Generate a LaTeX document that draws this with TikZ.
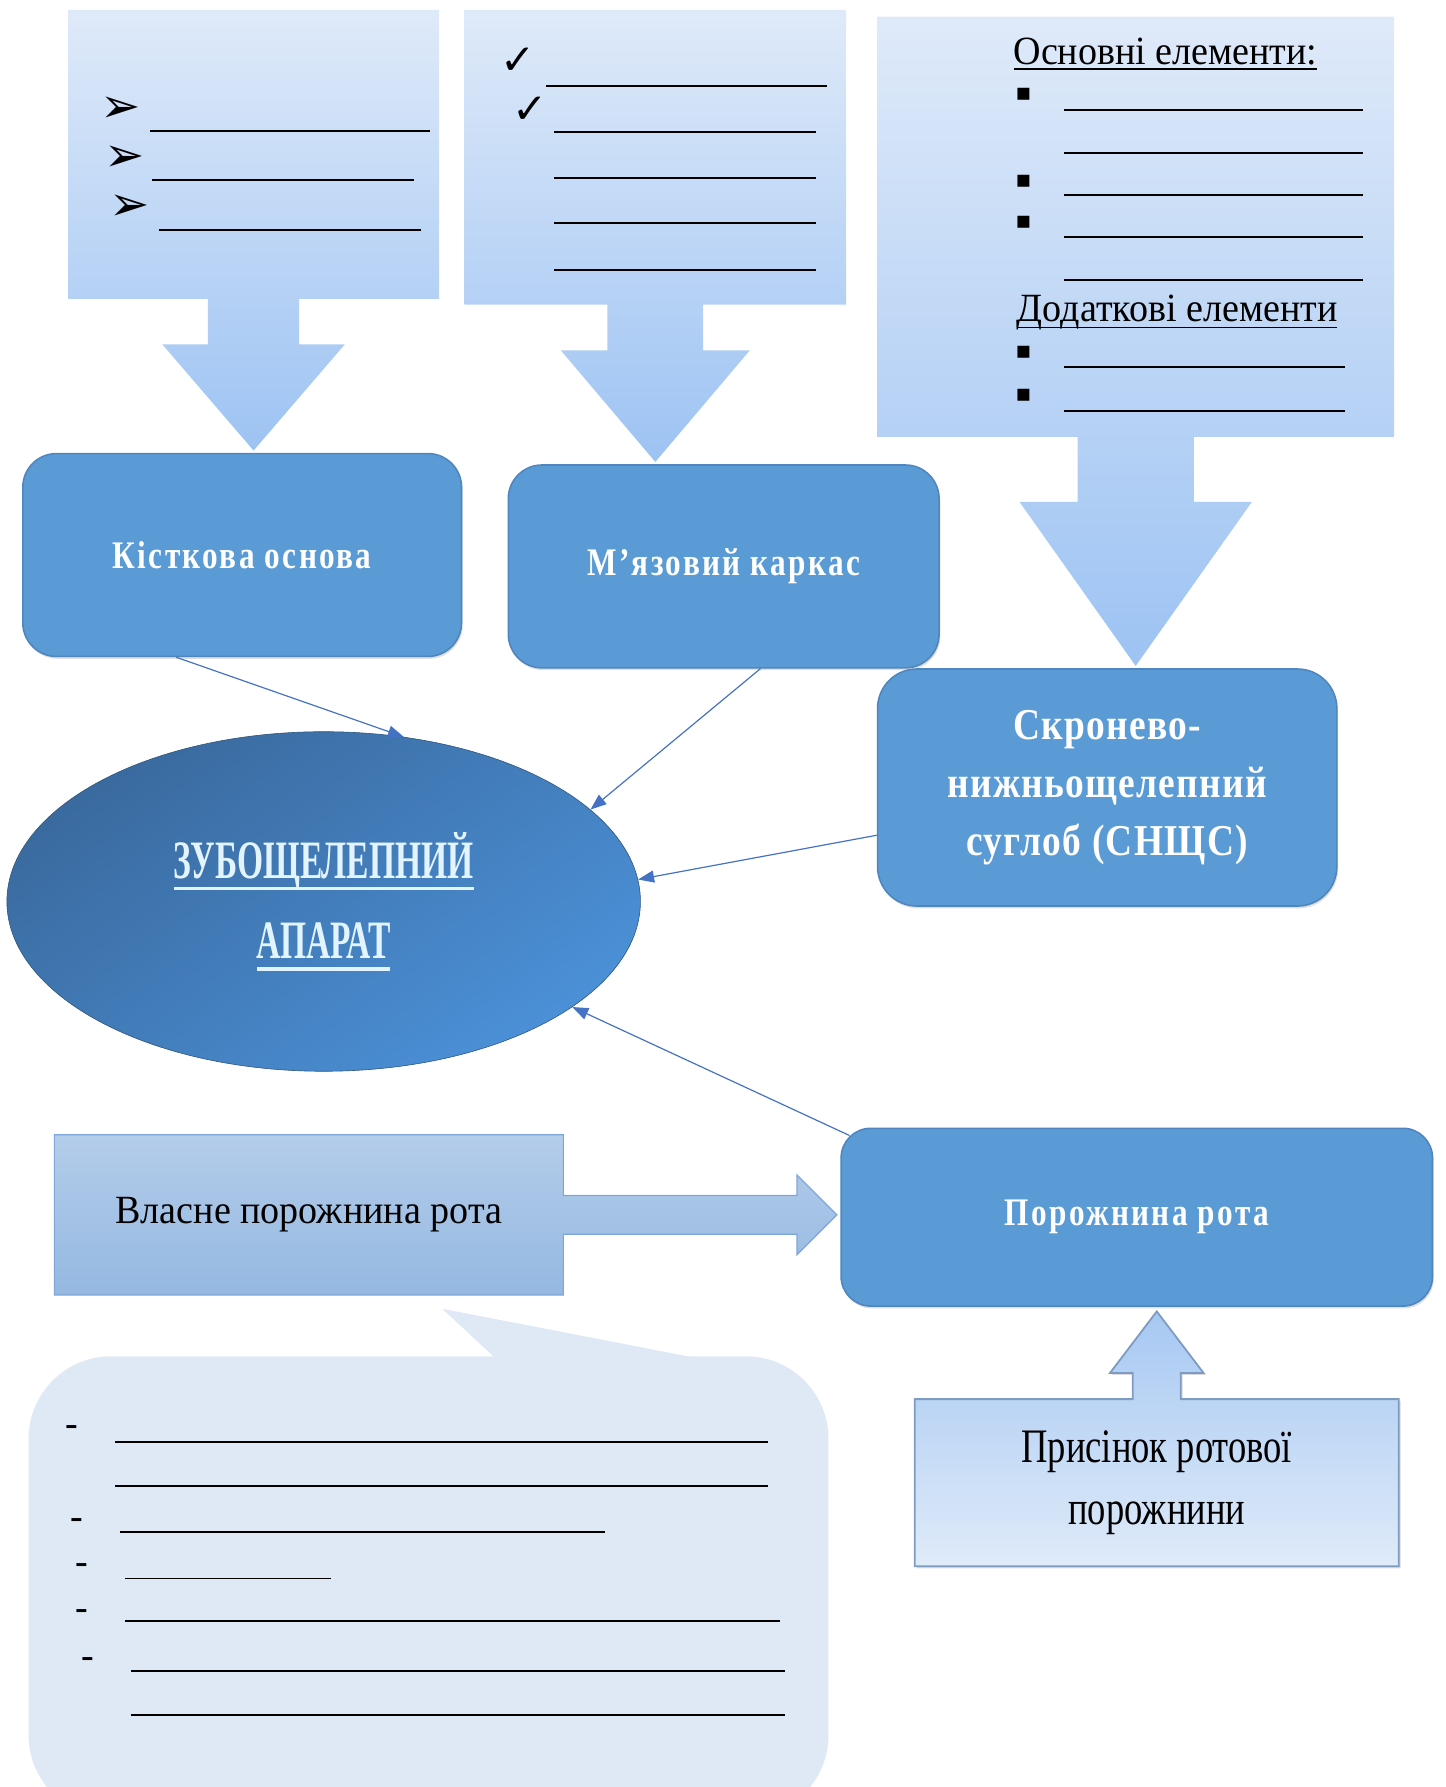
\documentclass[tikz,border=0pt]{standalone}
\usepackage{fontspec}
\usepackage{xcolor}
\usepackage{tikz}
\usetikzlibrary{shapes,arrows,arrows.meta,positioning,calc,shadows,backgrounds}

\setmainfont{Liberation Serif}
\newfontfamily\dingfont{DejaVu Sans}
\newfontfamily\boxfont[FakeStretch=0.8,LetterSpace=6]{Liberation Serif}
\newfontfamily\jointfont[FakeStretch=0.85,LetterSpace=3]{Liberation Serif}
\newfontfamily\ovalfont[FakeStretch=0.62]{Liberation Serif}
\newfontfamily\vestfont[FakeStretch=0.76]{Liberation Serif}
\newfontfamily\formfont[FakeStretch=0.95]{Liberation Serif}

\definecolor{boxblue}{HTML}{5B9BD5}
\definecolor{boxedge}{HTML}{4F86BF}
\definecolor{listtop}{HTML}{DFEAF9}
\definecolor{listbot}{HTML}{9DC3F3}
\definecolor{vlastop}{HTML}{B4CDEA}
\definecolor{vlasbot}{HTML}{94B8E1}
\definecolor{vlasedge}{HTML}{7EA6D9}
\definecolor{vesttop}{HTML}{A7C8F2}
\definecolor{vestbot}{HTML}{DFEBF9}
\definecolor{vestedge}{HTML}{7E9CC2}
\definecolor{bubblefill}{HTML}{DEE9F5}
\definecolor{zubdark}{HTML}{3A6A9E}
\definecolor{zublight}{HTML}{4B90D7}
\definecolor{zubtext}{HTML}{E2F4FF}
\definecolor{linkblue}{HTML}{4472C4}

% underlined word: raise, thickness, text
\newcommand{\ulword}[3]{\setbox0\hbox{#3}\rlap{\copy0}\rule[#1]{\wd0}{#2}}

\begin{document}
\begin{tikzpicture}[x=0.02cm, y=-0.02cm]
    % Styles
    \tikzstyle{block} = [rectangle, draw=boxedge, line width=0.8pt, fill=boxblue, text=white, align=center, font=\boxfont\bfseries\fontsize{19.5}{23}\selectfont, drop shadow={opacity=0.25, shadow xshift=0.6pt, shadow yshift=-1.2pt}]
    \tikzstyle{listbox} = [rectangle, inner sep=0pt]
    \tikzstyle{downcall} = [top color=listtop, bottom color=listbot]
    \tikzstyle{sidecall} = [top color=vlastop, bottom color=vlasbot, draw=vlasedge, line width=0.6pt]
    \tikzstyle{upcall} = [top color=vesttop, bottom color=vestbot, draw=vestedge, line width=0.9pt, drop shadow={opacity=0.3, shadow xshift=1pt, shadow yshift=-1pt}]
    \tikzstyle{oval} = [ellipse, inner sep=0pt, minimum width=11.12cm, minimum height=5.96cm, top color=zubdark, bottom color=zublight, shading angle=35, draw=zubdark!80!black, line width=0.3pt, text=zubtext, align=center, font=\ovalfont\bfseries\fontsize{27}{40}\selectfont]
    \tikzstyle{bubblebox} = [rectangle, rounded corners=1.45cm, fill=bubblefill, minimum width=14.04cm, minimum height=8.1cm]
    \tikzstyle{heading} = [inner sep=0pt, anchor=base west, font=\formfont\fontsize{20}{24}\selectfont]
    \tikzstyle{ding} = [inner sep=0pt, font=\dingfont\fontsize{24}{24}\selectfont]
    \tikzstyle{dashmark} = [inner sep=0pt, font=\formfont\fontsize{20}{24}\selectfont]
    \tikzstyle{blankline} = [line width=0.9pt]
    \tikzstyle{line} = [draw=linkblue, line width=0.6pt, -{Triangle[length=8pt,width=6pt]}]

    \useasboundingbox (0,0) rectangle (1268,1568);
    \clip (0,0) rectangle (1268,1568);

    % Nodes
    \node [listbox, minimum width=6.5cm, minimum height=5.06cm] (bonelist) at (222.5,135.4) {};
    \node [listbox, minimum width=6.68cm, minimum height=5.16cm] (musclelist) at (575,138) {};
    \node [listbox, minimum width=9.06cm, minimum height=7.36cm] (jointlist) at (996.5,199) {};

    \node [block, minimum width=7.7cm, minimum height=3.56cm, rounded corners=0.59cm] (kist) at (212.5,487) {Кісткова основа};
    \node [block, minimum width=7.56cm, minimum height=3.56cm, rounded corners=0.59cm] (myaz) at (635,497) {М’язовий каркас};
    \node [block, minimum width=8.06cm, minimum height=4.16cm, rounded corners=0.69cm, font=\jointfont\bfseries\fontsize{22}{29}\selectfont] (snshs) at (971.5,691) {Скронево-\\нижньощелепний\\суглоб (СНЩС)};
    \node [oval] (zub) at (284,791) {\ulword{-6pt}{1.6pt}{ЗУБОЩЕЛЕПНИЙ}\\\ulword{-6pt}{1.6pt}{АПАРАТ}};
    \node [block, minimum width=10.38cm, minimum height=3.12cm, rounded corners=0.52cm] (porozh) at (997.5,1068) {Порожнина рота};
    \node [minimum width=8.92cm, minimum height=2.8cm, font=\formfont\fontsize{20}{24}\selectfont] (vlasne) at (271,1066) {Власне порожнина рота};
    \node [minimum width=8.48cm, minimum height=2.92cm, align=center, font=\vestfont\fontsize{24}{31}\selectfont] (vestib) at (1015,1301) {Присінок ротової\\порожнини};
    \node [bubblebox] (bubble) at (376,1392.5) {};

    % Block arrows
    \foreach \lst/\tgt/\sw/\sl/\hw in {bonelist/kist/40/40/80, musclelist/myaz/42/40/83, jointlist/snshs/51/57/102}{
        \coordinate (tip) at ($(\lst.south |- \tgt.north)+(0,-2)$);
        \path [downcall] (\lst.north west) -- (\lst.north east) -- (\lst.south east)
            -- ($(\lst.south)+(\sw,0)$) -- ($(\lst.south)+(\sw,\sl)$) -- ($(\lst.south)+(\hw,\sl)$)
            -- (tip) -- ($(\lst.south)+(-\hw,\sl)$) -- ($(\lst.south)+(-\sw,\sl)$)
            -- ($(\lst.south)+(-\sw,0)$) -- (\lst.south west) -- cycle;
    }
    \begin{pgfonlayer}{background}
        \coordinate (vtip) at ($(vlasne.east -| porozh.west)+(-3,0)$);
        \path [sidecall] (vlasne.north west) -- (vlasne.north east) -- ($(vlasne.east)+(0,-17)$)
            -- ($(vtip)+(-35,-17)$) -- ($(vtip)+(-35,-35)$) -- (vtip) -- ($(vtip)+(-35,35)$)
            -- ($(vtip)+(-35,17)$) -- ($(vlasne.east)+(0,17)$) -- (vlasne.south east)
            -- (vlasne.south west) -- cycle;
        \coordinate (ptip) at ($(vestib.north |- porozh.south)+(0,4)$);
        \path [upcall] (vestib.north west) -- ($(vestib.north)+(-21,0)$) -- ($(vestib.north)+(-21,-23)$)
            -- ($(vestib.north)+(-41,-23)$) -- (ptip) -- ($(vestib.north)+(41,-23)$)
            -- ($(vestib.north)+(21,-23)$) -- ($(vestib.north)+(21,0)$) -- (vestib.north east)
            -- (vestib.south east) -- (vestib.south west) -- cycle;
    \end{pgfonlayer}
    \fill [bubblefill] ($(bubble.north west)+(410,2)$) -- ($(vlasne.south)+(117,12)$) -- ($(bubble.north west)+(587,2)$) -- cycle;

    % List contents
    \foreach \x/\y [count=\i] in {106/96.5, 109/139.5, 114/182.5}
        \node [ding] (arrowmark\i) at (\x,\y) {➢};
    \foreach \y/\xa/\xb in {115/131.6/377, 158/133/363, 202/139.5/369}
        \draw [blankline] (\xa,\y) -- (\xb,\y);

    \foreach \x/\y [count=\i] in {455/53.5, 465/96.5}
        \node [ding, font=\dingfont\bfseries\fontsize{21}{21}\selectfont] (checkmark\i) at (\x,\y) {✓};
    \draw [blankline] (479,75.5) -- (726,75.5);
    \foreach \y in {116,156,196,237}
        \draw [blankline] (486,\y) -- (716,\y);

    \node [heading] (mainhead) at (889,57) {\ulword{-2.5pt}{0.8pt}{Основні елементи:}};
    \node [heading] (addhead) at (892,282) {\ulword{-3.4pt}{0.8pt}{Додаткові елементи}};
    \foreach \y [count=\i] in {83,159,195.5,309,347}
        \node [ding, font=\dingfont\fontsize{12}{12}\selectfont] (square\i) at (898,\y) {▪};
    \foreach \y in {96.5,134.6,171,208,246}
        \draw [blankline] (934,\y) -- (1196,\y);
    \foreach \y in {322,360.5}
        \draw [blankline] (934,\y) -- (1180,\y);

    \foreach \x/\y [count=\i] in {63/1256, 67/1337, 72/1377, 72/1417, 77/1459}
        \node [dashmark] (dash\i) at (\x,\y) {-};
    \foreach \y/\xa/\xb in {1265/101/674, 1304/101/674, 1344/105/531, 1385/110/290, 1422/110/684, 1466/115/689, 1505/115/689}
        \draw [blankline] (\xa,\y) -- (\xb,\y);

    % Edges
    \path [line] ($(kist.south west)!0.35!(kist.south east)$) -- (zub.64);
    \path [line] ($(myaz.south west)!0.585!(myaz.south east)$) -- (zub.19);
    \path [line] ($(snshs.north west)!0.7!(snshs.south west)$) -- (zub.4);
    \path [line] ($(porozh.north west)+(8,7)$) -- (zub.-23);
\end{tikzpicture}
\end{document}
